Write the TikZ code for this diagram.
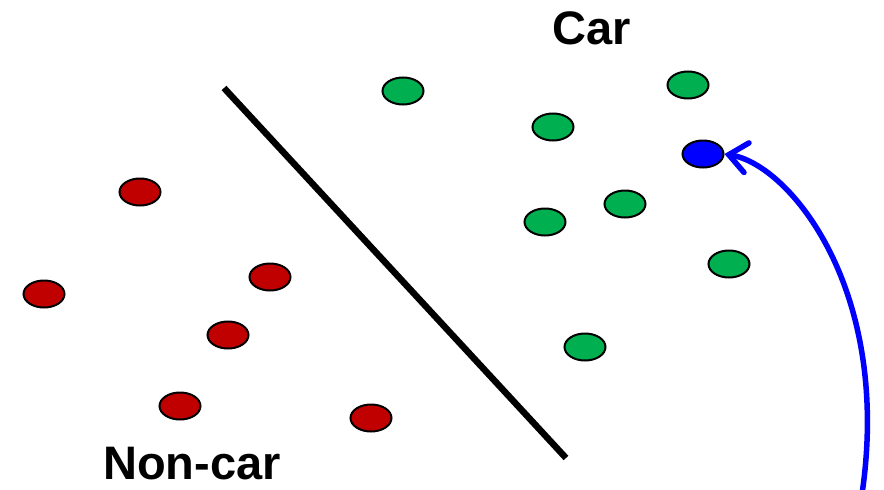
\documentclass[tikz,border=0pt]{standalone}
\usepackage{fontspec}
\setmainfont{Liberation Sans}
\usepackage{tikz}
\usetikzlibrary{
  arrows.meta,
  shapes.geometric
}
\definecolor{carGreen}{RGB}{0,176,80}
\definecolor{noncarRed}{RGB}{192,0,0}
\tikzset{
  sample/.style={
    ellipse,
    draw=black,
    line width=2pt,
    minimum width=41pt,
    minimum height=27pt,
    inner sep=0pt,
  },
  carpt/.style={sample, fill=carGreen},
  noncarpt/.style={sample, fill=noncarRed},
  querypt/.style={sample, fill=blue},
  classlbl/.style={
    font=\bfseries\fontsize{47}{56}\selectfont,
    inner sep=0pt,
  },
  boundary/.style={
    line width=6.5pt,
    draw=black,
  },
  arr/.style={
    -{Straight Barb[length=18pt,width=30pt,line cap=round]},
    line width=5.5pt,
    draw=blue,
  },
}

\begin{document}
\begin{tikzpicture}[
  x=1pt, y=-1pt,
]
  \useasboundingbox (0,0) rectangle (884,490);

  % --- Class labels ---
  \node[classlbl] (carlbl)    at (592,28)  {Car};
  \node[classlbl] (noncarlbl) at (192,464) {Non-car};

  % --- Car samples ---
  \node[carpt] (car1) at (403,91)  {};
  \node[carpt] (car2) at (688,85)  {};
  \node[carpt] (car3) at (553,127) {};
  \node[carpt] (car4) at (545,222) {};
  \node[carpt] (car5) at (625,204) {};
  \node[carpt] (car6) at (729,264) {};
  \node[carpt] (car7) at (585,347) {};

  % --- Non-car samples ---
  \node[noncarpt] (noncar1) at (140,192) {};
  \node[noncarpt] (noncar2) at (44,294)  {};
  \node[noncarpt] (noncar3) at (270,277) {};
  \node[noncarpt] (noncar4) at (228,335) {};
  \node[noncarpt] (noncar5) at (180,406) {};
  \node[noncarpt] (noncar6) at (371,418) {};

  % --- New sample to classify ---
  \node[querypt] (query) at (703,154) {};

  % --- Decision boundary ---
  \coordinate (sepTop) at (224,88);
  \coordinate (sepBot) at (566,458);
  \draw[boundary] (sepTop) -- (sepBot);

  % --- Incoming arrow ---
  \coordinate (src) at (862,494);
  \draw[arr] (src) .. controls (892,290) and (790,165) .. (query.east);
\end{tikzpicture}
\end{document}
